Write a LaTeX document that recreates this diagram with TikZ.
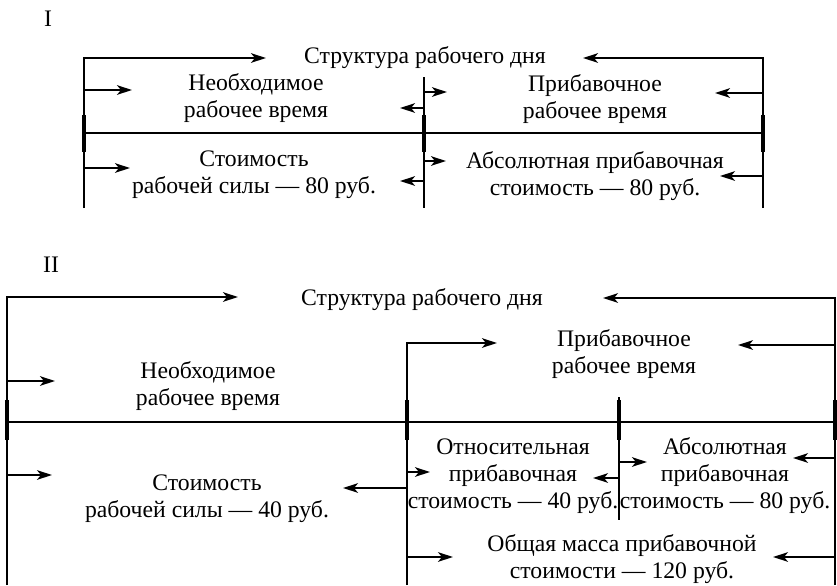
\documentclass[tikz,border=0pt]{standalone}
\usepackage{fontspec}
\setmainfont{Liberation Serif}
\usetikzlibrary{arrows.meta}
\tikzset{rule/.style={line width=0.75pt}}
\tikzset{thickseg/.style={line width=1.6pt}}
\tikzset{arr/.style={line width=0.75pt, -{Stealth[length=7.5pt,width=4.8pt,inset=2pt]}}}
\tikzset{lbl/.style={align=center, inner sep=0pt, anchor=base, font=\fontsize{11.85}{13.5}\selectfont}}

\begin{document}
\begin{tikzpicture}[x=0.5pt,y=-0.5pt]
        \useasboundingbox (0,0) rectangle (837,585);
        % Scheme I (labels sit on the baseline of their last line)
        \node[lbl] (numI) at (48,26) {I};
        \coordinate (L1t) at (84,58);   \coordinate (L1b) at (84,208);
        \coordinate (M1t) at (424,77);  \coordinate (M1b) at (424,208);
        \coordinate (R1t) at (763,58);  \coordinate (R1b) at (763,208);
        \node[lbl] (title1) at (425,63) {Структура рабочего дня};
        \node[lbl] (need1) at (256,117) {Необходимое\\рабочее время};
        \node[lbl] (surp1) at (595,118) {Прибавочное\\рабочее время};
        \node[lbl] (cost1) at (254,193) {Стоимость\\рабочей силы — 80 руб.};
        \node[lbl] (abs1) at (595,195) {Абсолютная прибавочная\\стоимость — 80 руб.};
        \draw[arr] (L1b) -- (L1t) -- (266,58);
        \draw[arr] (R1b) -- (R1t) -- (583,58);
        \draw[rule] (M1t) -- (M1b);
        \draw[rule] (L1t |- 0,133) -- (R1t |- 0,133);
        \foreach \ln in {L1,M1,R1}
          \draw[thickseg] (\ln t |- 0,115) -- (\ln t |- 0,152);
        \foreach \ln/\y/\len in {
          L1/90/48, M1/108/-24, M1/92/23, R1/93/-48,
          L1/168/46, M1/181/-24, M1/161/22, R1/176/-43%
        } {
          \draw[arr] (\ln t |- 0,\y) -- ++(\len,0);
        }
        % Scheme II
        \node[lbl] (numII) at (51,272) {II};
        \coordinate (L2t) at (7,297);   \coordinate (L2b) at (7,585);
        \coordinate (M2t) at (407,343); \coordinate (M2b) at (407,585);
        \coordinate (N2t) at (619,397); \coordinate (N2b) at (619,520);
        \coordinate (R2t) at (835,298); \coordinate (R2b) at (835,585);
        \node[lbl] (title2) at (422,305) {Структура рабочего дня};
        \node[lbl] (need2) at (208,405) {Необходимое\\рабочее время};
        \node[lbl] (surp2) at (624,373) {Прибавочное\\рабочее время};
        \node[lbl] (cost2) at (207,517) {Стоимость\\рабочей силы — 40 руб.};
        \node[lbl] (rel2) at (513,508) {Относительная\\прибавочная\\стоимость — 40 руб.};
        \node[lbl] (abs2) at (725,508) {Абсолютная\\прибавочная\\стоимость — 80 руб.};
        \node[lbl] (total2) at (622,578) {Общая масса прибавочной\\стоимости — 120 руб.};
        \draw[arr] (L2b) -- (L2t) -- (238,297);
        \draw[arr] (R2b) -- (R2t) -- (603,298);
        \draw[arr] (M2b) -- (M2t) -- (497,343);
        \draw[rule] (N2t) -- (N2b);
        \draw[rule] (L2t |- 0,422) -- (R2t |- 0,422);
        \foreach \ln in {L2,M2,N2,R2}
          \draw[thickseg] (\ln t |- 0,400) -- (\ln t |- 0,440);
        \foreach \ln/\y/\len in {
          R2/345/-97, L2/381/48,
          L2/475/45, M2/488/-64, M2/472/23, N2/478/-26,
          N2/462/28, R2/458/-42, M2/557/46, R2/557/-62%
        } {
          \draw[arr] (\ln t |- 0,\y) -- ++(\len,0);
        }
\end{tikzpicture}
\end{document}
